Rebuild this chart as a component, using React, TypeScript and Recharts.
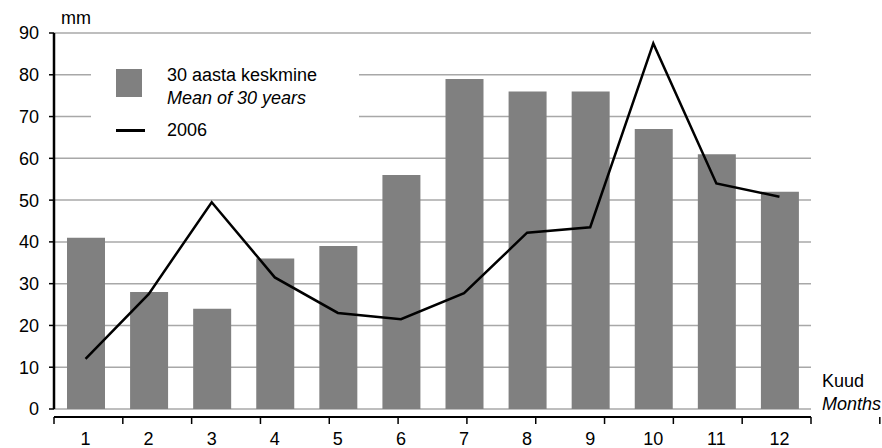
import React from 'react';
import { ComposedChart, Bar, Line, XAxis, YAxis, CartesianGrid, Legend } from 'recharts';

// Monthly precipitation, mm
const months = ['1', '2', '3', '4', '5', '6', '7', '8', '9', '10', '11', '12'];
const mean30 = [41, 28, 24, 36, 39, 56, 79, 76, 76, 67, 61, 52];
const year2006 = [12, 27.5, 49.5, 31.5, 23, 21.5, 27.7, 42.2, 43.5, 87.5, 54, 50.8];
const yTicks = [0, 10, 20, 30, 40, 50, 60, 70, 80, 90];
const frameTicks = [0, 1, 2, 3, 4, 5, 6, 7, 8, 9, 10, 11, 12];

const data = months.map((m, i) => ({ month: m, mean: mean30[i], y2006: year2006[i] }));

const FONT = '"Liberation Sans", Arial, sans-serif';
const FS = 18;
const BAR_GREY = '#808080';

// month labels, pushed down below the separate frame axis
const MonthTick = ({ x, y, payload }: any) => (
    <text x={x} y={y} dy={28} textAnchor="middle" fontSize={FS} fill="#000" fontFamily={FONT}>
        {payload.value}
    </text>
);

const LegendBox = () => (
    <div style={{ position: 'relative', width: 268, height: 100, background: '#fff', fontFamily: FONT, fontSize: FS, color: '#000' }}>
        <div style={{ position: 'absolute', left: 25, top: 24, width: 26, height: 28, background: BAR_GREY }} />
        <div style={{ position: 'absolute', left: 76, top: 20, lineHeight: '20px', whiteSpace: 'nowrap' }}>30 aasta keskmine</div>
        <div style={{ position: 'absolute', left: 76, top: 43, lineHeight: '20px', whiteSpace: 'nowrap', fontStyle: 'italic' }}>Mean of 30 years</div>
        <div style={{ position: 'absolute', left: 25, top: 84, width: 29, height: 2.5, background: '#000' }} />
        <div style={{ position: 'absolute', left: 76, top: 75, lineHeight: '20px' }}>2006</div>
    </div>
);

export default function App() {
    return (
        <div style={{ position: 'absolute', left: 0, top: 0, fontFamily: FONT }}>
            <ComposedChart width={882} height={448} data={data} margin={{ top: 33, right: 71, bottom: 0, left: 0 }}>
                <CartesianGrid yAxisId="frame" vertical={false} stroke="#a8a8a8" strokeWidth={1.5} />
                <XAxis
                    dataKey="month"
                    height={8}
                    axisLine={false}
                    tickLine={false}
                    tick={<MonthTick />}
                    interval={0}
                    label={({ viewBox }: any) => (
                        <g fontFamily={FONT} fontSize={FS} fill="#000">
                            <text x={viewBox.x + viewBox.width + 11} y={viewBox.y - 22}>Kuud</text>
                            <text x={viewBox.x + viewBox.width + 11} y={viewBox.y + 1} fontStyle="italic">Months</text>
                        </g>
                    )}
                />
                <XAxis
                    xAxisId="frame"
                    type="number"
                    domain={[0, 12]}
                    ticks={frameTicks}
                    allowDataOverflow
                    height={31}
                    axisLine={{ stroke: '#000', strokeWidth: 2 }}
                    tickLine={{ stroke: '#000', strokeWidth: 1.5 }}
                    tickSize={7}
                    tickFormatter={() => ''}
                />
                <YAxis yAxisId="val" width={7} domain={[0, 90]} ticks={yTicks} axisLine={false} tickLine={false} tick={false} />
                <YAxis
                    yAxisId="frame"
                    width={47}
                    domain={[0, 90]}
                    ticks={yTicks}
                    allowDataOverflow
                    axisLine={{ stroke: '#000', strokeWidth: 2.5 }}
                    tickLine={{ stroke: '#000', strokeWidth: 1.5 }}
                    tickSize={5}
                    tickMargin={10}
                    tick={{ fontSize: FS, fill: '#000', fontFamily: FONT }}
                    label={({ viewBox }: any) => (
                        <text x={viewBox.x + viewBox.width + 7} y={viewBox.y - 9} fontSize={FS} fill="#000" fontFamily={FONT}>
                            mm
                        </text>
                    )}
                />
                <Legend
                    layout="vertical"
                    align="center"
                    verticalAlign="middle"
                    wrapperStyle={{ left: 91, top: 45, width: 268, height: 100 }}
                    content={() => <LegendBox />}
                />
                <Bar yAxisId="val" dataKey="mean" fill={BAR_GREY} barSize={38} isAnimationActive={false} />
                <Line
                    yAxisId="val"
                    dataKey="y2006"
                    type="linear"
                    stroke="#000"
                    strokeWidth={2.5}
                    dot={false}
                    activeDot={false}
                    isAnimationActive={false}
                />
            </ComposedChart>
        </div>
    );
}
